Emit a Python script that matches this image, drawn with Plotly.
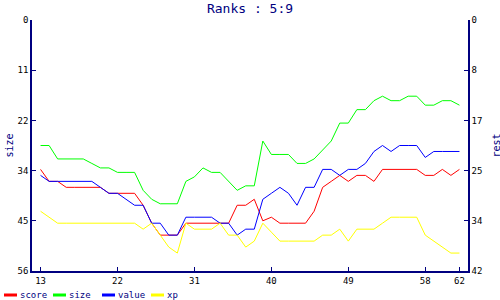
import plotly.graph_objects as go

# ---------------- data ----------------
x_vals = list(range(13, 63))

score = [25, 27, 27, 28, 28, 28, 28, 28, 29, 29,
         29, 29, 31, 34, 36, 36, 36, 34, 34, 34,
         34, 34, 34, 31, 31, 30, 33.6, 33, 34, 34,
         34, 34, 32, 28, 27, 26, 27, 26, 26, 27,
         25, 25, 25, 25, 25, 26, 26, 25, 26, 25]

size = [28, 28, 31, 31, 31, 31, 32, 33, 33, 34,
        34, 34, 38, 40, 41, 41, 41, 36, 35, 33,
        34, 34, 36, 38, 37, 37, 27, 30, 30, 30,
        32, 32, 31, 29, 27, 23, 23, 20, 20, 18,
        17, 18, 18, 17, 17, 19, 19, 18, 18, 19]

value = [26, 27, 27, 27, 27, 27, 27, 28, 29, 29,
         30, 31, 31, 34, 34, 36, 36, 33, 33, 33,
         33, 34, 34, 36, 35, 35, 30, 29, 28, 29,
         31, 28, 28, 25, 25, 26, 25, 25, 24, 22,
         21, 22, 21, 21, 21, 23, 22, 22, 22, 22]

xp = [32, 33, 34, 34, 34, 34, 34, 34, 34, 34,
      34, 34, 35, 34, 36, 38, 39, 34, 35, 35,
      35, 34, 36, 36, 38, 37, 34, 35.5, 37, 37,
      37, 37, 37, 36, 36, 35, 37, 35, 35, 35,
      34, 33, 33, 33, 33, 36, 37, 38, 39, 39]

series_names = ["score", "size", "value", "xp"]
series_colors = ["#ff0000", "#00ff00", "#0000ff", "#ffff00"]

x_ticks = [13, 22, 31, 40, 49, 58, 62]
left_tickvals = [0, 11.2, 22.4, 33.6, 44.8, 56]
left_ticktext = ["0", "11", "22", "34", "45", "56"]
right_tickvals = [0, 8.4, 16.8, 25.2, 33.6, 42]
right_ticktext = ["0", "8", "17", "25", "34", "42"]

title_text = "Ranks : 5:9"
left_title = "size"
right_title = "rest"

# ---------------- layout helpers ----------------
W, H = 500, 300
ML, MR, MT, MB = 32, 32, 20, 29
PW = W - ML - MR
PH = H - MT - MB
NAVY = "#000080"
MONO = "DejaVu Sans Mono"


def px2paper_x(px):
    return (px - ML) / PW


def px2paper_y(py):
    return (H - MB - py) / PH


fig = go.Figure()
data_map = {"score": (score, "y2"), "size": (size, "y"), "value": (value, "y2"), "xp": (xp, "y2")}
for name, color in zip(series_names, series_colors):
    vals, ax = data_map[name]
    fig.add_trace(go.Scatter(x=x_vals, y=vals, mode="lines", name=name, yaxis=ax,
                             line=dict(color=color, width=1), showlegend=False,
                             hoverinfo="skip"))

axis_common = dict(showgrid=False, zeroline=False, showline=True, linecolor=NAVY,
                   linewidth=1.5, ticks="inside", ticklen=4, tickcolor=NAVY, tickwidth=1,
                   tickfont=dict(family=MONO, size=9, color="black"))

fig.update_layout(
    width=W, height=H,
    margin=dict(l=ML, r=MR, t=MT, b=MB),
    paper_bgcolor="white", plot_bgcolor="white",
    title=dict(text=title_text, x=0.5, xref="container", xanchor="center",
               y=1 - 8 / H, yref="container", yanchor="middle",
               font=dict(family=MONO, size=13, color=NAVY)),
    xaxis=dict(range=[12, 63], tickvals=x_ticks, **axis_common),
    yaxis=dict(range=[56, 0], tickvals=left_tickvals, ticktext=left_ticktext, **axis_common),
    yaxis2=dict(range=[42, 0], tickvals=right_tickvals, ticktext=right_ticktext,
                overlaying="y", side="right", anchor="x", **axis_common),
    hovermode=False,
)

annotations = [
    dict(text=left_title, x=px2paper_x(8.5), y=px2paper_y(146), xref="paper", yref="paper",
         textangle=-90, showarrow=False, xanchor="center", yanchor="middle",
         font=dict(family=MONO, size=10, color=NAVY)),
    dict(text=right_title, x=px2paper_x(495.5), y=px2paper_y(146), xref="paper", yref="paper",
         textangle=-90, showarrow=False, xanchor="center", yanchor="middle",
         font=dict(family=MONO, size=10, color=NAVY)),
]
shapes = []
legend_x = [4, 53, 102, 151]
legend_y = 295
for name, color, lx in zip(series_names, series_colors, legend_x):
    shapes.append(dict(type="line", xref="paper", yref="paper",
                       x0=px2paper_x(lx), x1=px2paper_x(lx + 13),
                       y0=px2paper_y(legend_y), y1=px2paper_y(legend_y),
                       line=dict(color=color, width=3)))
    annotations.append(dict(text=name, x=px2paper_x(lx + 14), y=px2paper_y(legend_y),
                            xref="paper", yref="paper", showarrow=False,
                            xanchor="left", yanchor="middle",
                            font=dict(family=MONO, size=9, color=NAVY)))

fig.update_layout(annotations=annotations, shapes=shapes)

fig.write_html("out.html", config={"displayModeBar": False})
